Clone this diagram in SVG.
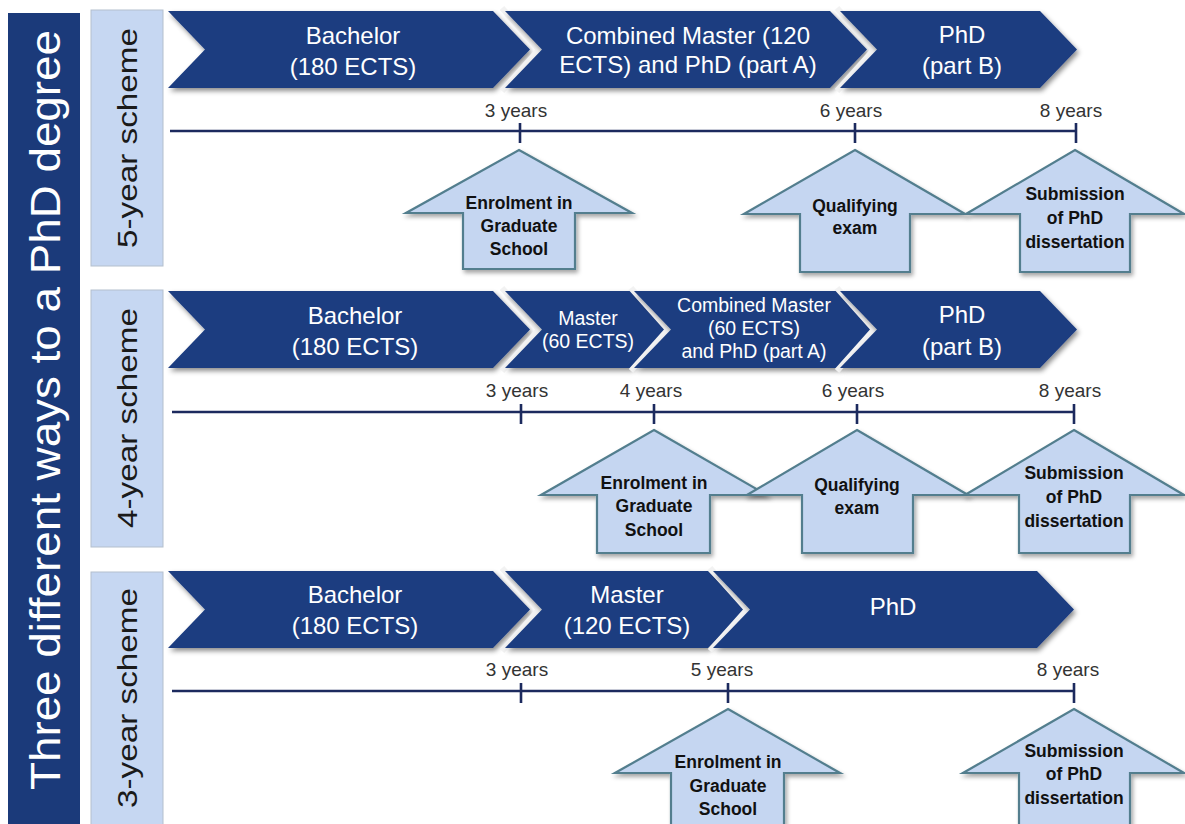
<svg xmlns="http://www.w3.org/2000/svg" width="1185" height="824" viewBox="0 0 1185 824">
<style>
.chev{fill:#1B3C80;filter:url(#sh);}
.sep{fill:none;stroke:#F2F2F2;stroke-width:6;stroke-linejoin:miter;}
.ct{font-family:"Liberation Sans",Arial,sans-serif;font-size:24px;fill:#FFFFFF;text-anchor:middle;}
.cs{font-size:19.5px;}
.up{fill:#C5D6F1;stroke:#527E8E;stroke-width:2.2;filter:url(#sh2);}
.ut{font-family:"Liberation Sans",Arial,sans-serif;font-weight:bold;font-size:17.5px;fill:#111111;text-anchor:middle;}
.tl{stroke:#1C2A5E;stroke-width:2.6;fill:none;}
.yt{font-family:"Liberation Sans",Arial,sans-serif;font-size:19px;fill:#333333;text-anchor:middle;}
.lab{fill:#C6D7F2;stroke:#B4BFCD;stroke-width:1;}
.lt{font-family:"Liberation Sans",Arial,sans-serif;font-size:28px;fill:#1A1A1A;text-anchor:middle;}
</style>
<defs>
<filter id="sh" x="-5%" y="-20%" width="115%" height="150%">
<feDropShadow dx="2" dy="3" stdDeviation="2.5" flood-color="#000" flood-opacity="0.45"/>
</filter>
<filter id="sh2" x="-10%" y="-10%" width="125%" height="130%">
<feDropShadow dx="2" dy="3" stdDeviation="2" flood-color="#000" flood-opacity="0.35"/>
</filter>
</defs>
<rect width="1185" height="824" fill="#FFFFFF"/>

<g id="title">
<rect x="8" y="13" width="72" height="811" fill="#1B3A7A"/>
<text transform="translate(60,410) rotate(-90)" font-family="Liberation Sans, Arial, sans-serif" font-size="42" fill="#FFFFFF" text-anchor="middle" textLength="760" lengthAdjust="spacingAndGlyphs">Three different ways to a PhD degree</text>
</g>

<g id="label-5yr">
<rect class="lab" x="91" y="10" width="72" height="256"/>
<text class="lt" transform="translate(137,138) rotate(-90)" textLength="220" lengthAdjust="spacingAndGlyphs">5-year scheme</text>
</g>
<g id="label-4yr">
<rect class="lab" x="91" y="290" width="72" height="257"/>
<text class="lt" transform="translate(137,418) rotate(-90)" textLength="220" lengthAdjust="spacingAndGlyphs">4-year scheme</text>
</g>
<g id="label-3yr">
<rect class="lab" x="91" y="572" width="72" height="260"/>
<text class="lt" transform="translate(137,698) rotate(-90)" textLength="220" lengthAdjust="spacingAndGlyphs">3-year scheme</text>
</g>

<!-- Row 1 chevrons -->
<g id="r1-bachelor">
<polygon class="chev" points="168,11 493,11 530,49.5 493,88 168,88 205,49.5"/>
<text class="ct" x="353" y="44">Bachelor</text>
<text class="ct" x="353" y="75">(180 ECTS)</text>
</g>
<g id="r1-combined">
<polyline class="sep" points="502,8 539,49.5 502,91"/>
<polygon class="chev" points="505,11 830,11 867,49.5 830,88 505,88 542,49.5"/>
<text class="ct" x="688" y="44">Combined Master (120</text>
<text class="ct" x="688" y="73">ECTS) and PhD (part A)</text>
</g>
<g id="r1-phd">
<polyline class="sep" points="837,8 874,49.5 837,91"/>
<polygon class="chev" points="840,11 1040,11 1077,49.5 1040,88 840,88 877,49.5"/>
<text class="ct" x="962" y="43">PhD</text>
<text class="ct" x="962" y="74">(part B)</text>
</g>

<!-- Row 2 chevrons -->
<g id="r2-bachelor">
<polygon class="chev" points="168,291 493,291 530,329.5 493,368 168,368 205,329.5"/>
<text class="ct" x="355" y="324">Bachelor</text>
<text class="ct" x="355" y="355">(180 ECTS)</text>
</g>
<g id="r2-master">
<polyline class="sep" points="502,288 539,329.5 502,371"/>
<polygon class="chev" points="505,291 631,291 668,329.5 631,368 505,368 542,329.5"/>
<text class="ct cs" x="588" y="325">Master</text>
<text class="ct cs" x="588" y="348">(60 ECTS)</text>
</g>
<g id="r2-combined">
<polyline class="sep" points="631,288 668,329.5 631,371"/>
<polygon class="chev" points="634,291 840,291 877,329.5 840,368 634,368 671,329.5"/>
<text class="ct cs" x="754" y="312">Combined Master</text>
<text class="ct cs" x="754" y="335">(60 ECTS)</text>
<text class="ct cs" x="754" y="358">and PhD (part A)</text>
</g>
<g id="r2-phd">
<polyline class="sep" points="837,288 874,329.5 837,371"/>
<polygon class="chev" points="840,291 1040,291 1077,329.5 1040,368 840,368 877,329.5"/>
<text class="ct" x="962" y="323">PhD</text>
<text class="ct" x="962" y="355">(part B)</text>
</g>

<!-- Row 3 chevrons -->
<g id="r3-bachelor">
<polygon class="chev" points="168,571 493,571 530,609.5 493,648 168,648 205,609.5"/>
<text class="ct" x="355" y="603">Bachelor</text>
<text class="ct" x="355" y="634">(180 ECTS)</text>
</g>
<g id="r3-master">
<polyline class="sep" points="502,568 539,609.5 502,651"/>
<polygon class="chev" points="505,571 708,571 745,609.5 708,648 505,648 542,609.5"/>
<text class="ct" x="627" y="603">Master</text>
<text class="ct" x="627" y="634">(120 ECTS)</text>
</g>
<g id="r3-phd">
<polyline class="sep" points="710,568 747,609.5 710,651"/>
<polygon class="chev" points="713,571 1037,571 1074,609.5 1037,648 713,648 750,609.5"/>
<text class="ct" x="893" y="615">PhD</text>
</g>

<!-- Timelines -->
<g id="connectors">
<path class="tl" d="M170,131 H1077 M520,123 V143 M855,123 V143 M1076,123 V143"/>
<path class="tl" d="M172,412 H1075 M521,404 V424 M654,404 V424 M857,404 V424 M1074,404 V424"/>
<path class="tl" d="M172,691 H1075 M521,683 V703 M728,683 V703 M1074,683 V703"/>
</g>

<g id="r1-years">
<text class="yt" x="516" y="117">3 years</text>
<text class="yt" x="851" y="117">6 years</text>
<text class="yt" x="1071" y="117">8 years</text>
</g>
<g id="r2-years">
<text class="yt" x="517" y="397">3 years</text>
<text class="yt" x="651" y="397">4 years</text>
<text class="yt" x="853" y="397">6 years</text>
<text class="yt" x="1070" y="397">8 years</text>
</g>
<g id="r3-years">
<text class="yt" x="517" y="676">3 years</text>
<text class="yt" x="722" y="676">5 years</text>
<text class="yt" x="1068" y="676">8 years</text>
</g>

<!-- Row 1 up arrows -->
<g id="r1-enrol">
<polygon class="up" points="519,150 632,213 575,213 575,269 463,269 463,213 406,213"/>
<text class="ut" x="519" y="209">Enrolment in</text>
<text class="ut" x="519" y="232">Graduate</text>
<text class="ut" x="519" y="255">School</text>
</g>
<g id="r1-qual">
<polygon class="up" points="855,150 965,214 910,214 910,272 800,272 800,214 744,214"/>
<text class="ut" x="855" y="212">Qualifying</text>
<text class="ut" x="855" y="234">exam</text>
</g>
<g id="r1-submit">
<polygon class="up" points="1075,150 1184,214 1130,214 1130,272 1020,272 1020,214 966,214"/>
<text class="ut" x="1075" y="200">Submission</text>
<text class="ut" x="1075" y="224">of PhD</text>
<text class="ut" x="1075" y="248">dissertation</text>
</g>

<!-- Row 2 up arrows -->
<g id="r2-enrol">
<polygon class="up" points="654,430 767,495 710,495 710,553 597,553 597,495 541,495"/>
<text class="ut" x="654" y="489">Enrolment in</text>
<text class="ut" x="654" y="512">Graduate</text>
<text class="ut" x="654" y="536">School</text>
</g>
<g id="r2-qual">
<polygon class="up" points="857,430 968,495 913,495 913,553 802,553 802,495 747,495"/>
<text class="ut" x="857" y="491">Qualifying</text>
<text class="ut" x="857" y="514">exam</text>
</g>
<g id="r2-submit">
<polygon class="up" points="1074,430 1184,495 1130,495 1130,553 1019,553 1019,495 965,495"/>
<text class="ut" x="1074" y="479">Submission</text>
<text class="ut" x="1074" y="503">of PhD</text>
<text class="ut" x="1074" y="527">dissertation</text>
</g>

<!-- Row 3 up arrows -->
<g id="r3-enrol">
<polygon class="up" points="728,709 840,773 784,773 784,840 671,840 671,773 615,773"/>
<text class="ut" x="728" y="768">Enrolment in</text>
<text class="ut" x="728" y="792">Graduate</text>
<text class="ut" x="728" y="815">School</text>
</g>
<g id="r3-submit">
<polygon class="up" points="1074,709 1184,773 1130,773 1130,840 1019,840 1019,773 963,773"/>
<text class="ut" x="1074" y="757">Submission</text>
<text class="ut" x="1074" y="780">of PhD</text>
<text class="ut" x="1074" y="804">dissertation</text>
</g>
</svg>
